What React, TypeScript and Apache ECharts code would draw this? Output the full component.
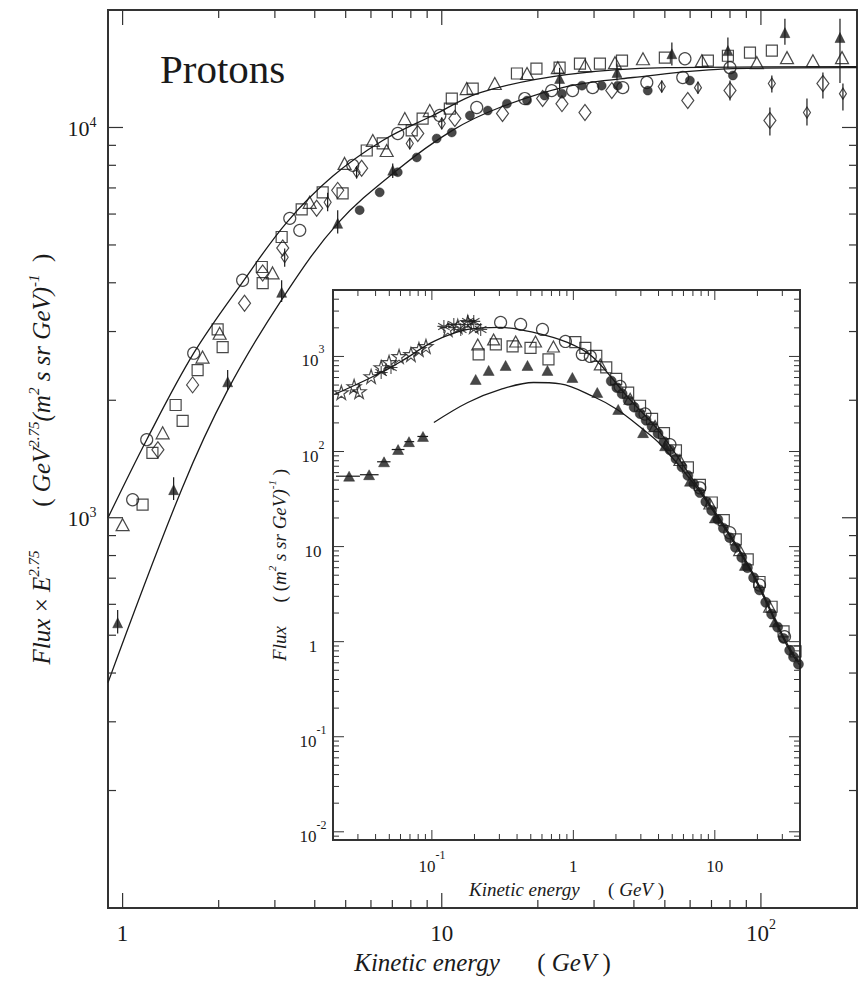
import React, { useEffect, useRef } from "react";
import * as echarts from "echarts";

// ---------- Main panel: Flux x E^2.75 vs kinetic energy (GeV) ----------
const mainCurveUpper = [
  [0.9, 1000], [1.19, 1585], [1.67, 2640], [2.377, 4018], [3.27, 5714], [4.55, 7495],
  [6.53, 9260], [9.37, 10730], [13.2, 12290], [24.6, 13660], [50.7, 14230], [200, 14320],
];
const mainCurveLower = [
  [0.9, 378], [1.53, 1180], [2.134, 2123], [3.175, 3655], [4.72, 5680], [7.22, 7760],
  [10.8, 9830], [15.2, 11250], [24.6, 12730], [39.7, 13430], [81.7, 14150], [200, 14230],
];
const mainOpenCircles = [
  [1.075, 1112], [1.19, 1585], [1.67, 2640], [2.377, 4060], [3.34, 5850], [3.59, 5450],
  [5.26, 8000], [7.28, 9650], [9.86, 10730], [12.87, 11250], [18.2, 11860], [22.1, 12430],
  [25.7, 12430], [29.7, 12650], [36.9, 12650], [43.9, 13040], [56.9, 13430], [80.0, 14230], [57.8, 15000],
];
const mainOpenSquares = [
  [1.155, 1080], [1.24, 1466], [1.466, 1945], [1.542, 1770], [1.718, 2390], [1.985, 3040],
  [2.058, 2735], [2.73, 4390], [2.747, 3990], [3.15, 5240], [3.64, 6170], [4.235, 6820],
  [4.89, 6780], [5.82, 8730], [6.53, 9100], [8.05, 9825], [8.71, 10540], [10.6, 11180],
  [10.75, 11860], [12.5, 12580], [17.2, 13750], [19.8, 14150], [23.4, 14230], [27.1, 14580],
  [31.3, 14580], [36.7, 14830], [50.0, 15100], [68.2, 14830], [78.8, 15270], [92.4, 15560], [108.2, 15740],
];
const mainOpenTriangles = [
  [1.0, 960], [1.335, 1650], [1.78, 2580], [2.014, 2970], [2.95, 4240], [3.855, 6430],
  [4.96, 8090], [6.08, 9260], [6.72, 8730], [7.66, 10540], [9.17, 11050], [11.97, 12580],
  [14.66, 12960], [18.5, 13750], [23.1, 14230], [28.1, 14410], [34.9, 14660], [42.7, 15000],
  [65.3, 14830], [97.1, 14660], [120.7, 15100], [145.5, 14830], [179.5, 15100],
];
const mainOpenDiamonds = [
  [1.29, 1494], [1.657, 2190], [2.41, 3545], [2.747, 4240], [3.175, 4910], [4.055, 6210],
  [4.72, 6900], [5.61, 7860], [8.41, 9650], [10.99, 10540], [15.5, 10860], [20.7, 11860],
  [23.8, 11510], [28.1, 10920], [34.1, 12430], [59.0, 11720], [80.0, 12430], [106.7, 10420], [156.4, 12960],
];
const mainSmallDiamonds = [
  [3.22, 4650], [4.39, 6430], [5.41, 7680], [7.94, 9100], [10.0, 10240], [48.9, 12730],
  [63.5, 12650], [108.2, 12960], [139.4, 10920], [180.7, 12210],
];
const mainFilledCircles = [
  [5.53, 6140], [6.39, 6820], [7.28, 7680], [8.35, 8380], [9.64, 9370], [10.75, 9710],
  [12.25, 10730], [13.94, 11050], [16.0, 11510], [18.5, 11720], [21.0, 12070], [23.8, 12210],
  [27.5, 12800], [31.7, 12800], [35.6, 12800], [44.2, 12430], [59.9, 13190], [81.7, 13590],
];
const mainFilledTriangles = [
  [0.965, 538], [1.445, 1180], [2.134, 2230], [3.15, 3780], [4.72, 5680], [7.02, 7770],
  [23.4, 13350], [35.4, 13830], [52.6, 15450], [78.8, 15740], [118.9, 17500], [176.9, 17000],
];
// vertical error bars: [energy, low, high]
const mainErrorBars = [
  [0.965, 505, 580], [1.445, 1110, 1270], [2.134, 2125, 2390], [3.15, 3570, 4060],
  [4.72, 5350, 6140], [7.02, 7420, 8090], [23.4, 12430, 14230], [35.4, 13190, 14580],
  [52.6, 14410, 16500], [78.8, 14230, 17000], [118.9, 16300, 19000], [176.9, 13000, 19000],
  [3.22, 4400, 4900], [4.39, 6100, 6800], [5.41, 7400, 7950], [7.94, 8800, 9400],
  [10.0, 9900, 10600], [48.9, 12300, 13200], [63.5, 12200, 13100], [108.2, 12300, 13590],
  [139.4, 10120, 11860], [180.7, 11050, 12960], [80.0, 11720, 13190], [106.7, 9540, 11250],
  [156.4, 11860, 13830],
];

// ---------- Inset: Flux vs kinetic energy ----------
const insetCurveUpper = [
  [0.0204, 398], [0.0372, 601], [0.0605, 886], [0.1033, 1438], [0.1794, 1923], [0.306, 2020],
  [0.523, 1790], [0.908, 1403], [1.383, 976], [2.4, 379], [4.1, 159], [7.0, 50.7],
  [12.15, 15.1], [18.5, 5.33], [32.1, 0.98], [39.7, 0.6],
];
const insetCurveLower = [
  [0.1033, 202], [0.1794, 328], [0.306, 450], [0.523, 532], [0.81, 515], [1.383, 379],
  [2.04, 277], [3.11, 171], [4.1, 120], [7.0, 47], [12.15, 14.4], [18.5, 5.07], [32.1, 0.93], [39.7, 0.57],
];
const insetStars = [
  [0.0229, 418], [0.0282, 483], [0.0306, 428], [0.0372, 616], [0.0438, 766], [0.0498, 865],
  [0.0586, 1000], [0.0711, 1050], [0.081, 1185], [0.0908, 1274], [0.1297, 1923], [0.1524, 2070],
  [0.1794, 2280], [0.1977, 2070],
];
const insetAsterisks = [
  [0.0438, 679], [0.0514, 766], [0.1216, 2070], [0.1429, 2173], [0.16, 1923], [0.1794, 2336],
  [0.1977, 2336], [0.2213, 1923],
];
const insetFilledTriangles = [
  [0.026, 55], [0.036, 57], [0.0459, 78], [0.0577, 105], [0.0689, 127], [0.0865, 144],
  [0.204, 573], [0.252, 713], [0.332, 804], [0.474, 804], [0.656, 713], [0.984, 601],
  [1.476, 418], [2.075, 277], [3.11, 158], [4.45, 115], [6.67, 48.7], [10.0, 20.0], [16.3, 6.34], [26.5, 1.61],
];
// horizontal bin bars: [energy low, energy high, flux]
const insetBinBars = [
  [0.021, 0.031, 55], [0.031, 0.042, 57], [0.041, 0.051, 78], [0.052, 0.064, 105],
  [0.064, 0.075, 127], [0.079, 0.094, 144],
];
const insetOpenCircles = [
  [0.306, 2280], [0.424, 2173], [0.605, 1923], [0.879, 1438], [1.157, 1050], [1.318, 1000],
  [2.14, 483], [3.21, 248], [4.82, 118], [7.84, 41.5], [12.75, 14.0], [20.7, 3.94], [31.1, 1.13],
];
const insetOpenSquares = [
  [0.214, 1050], [0.283, 1337], [0.372, 1274], [0.498, 1232], [0.667, 930], [1.033, 1418],
  [1.215, 1232], [1.452, 1014], [1.708, 767], [2.008, 581], [2.44, 417], [2.96, 303],
  [3.6, 221], [4.37, 156], [5.31, 103], [6.45, 68], [7.84, 44.6], [9.52, 29.1], [11.57, 19.0],
  [14.06, 11.9], [17.08, 7.35], [20.7, 4.24], [25.2, 2.33], [30.6, 1.28], [37.2, 0.789],
];
const insetOpenTriangles = [
  [0.211, 1337], [0.273, 1510], [0.391, 1438], [0.54, 1438], [0.723, 1274], [1.55, 824],
  [2.52, 359], [3.78, 185], [5.67, 81.4], [9.22, 28.4], [15.0, 9.19], [24.4, 2.34],
];
const insetFilledCircles = [
  [1.853, 551], [2.03, 470], [2.213, 405], [2.44, 345], [2.69, 293], [2.97, 250], [3.27, 213],
  [3.6, 183], [3.97, 155], [4.37, 127], [4.82, 104], [5.31, 84], [5.86, 69], [6.45, 56],
  [7.11, 45.5], [7.84, 37], [8.64, 29.7], [9.5, 24], [10.5, 19.3], [11.5, 15.6], [12.75, 12.4],
  [14.0, 9.8], [15.5, 7.7], [17.0, 6.0], [18.8, 4.71], [20.7, 3.5], [22.9, 2.59], [25.2, 1.95],
  [27.8, 1.42], [30.6, 1.08], [33.8, 0.81], [36.0, 0.69], [39.0, 0.58],
];

// ---------- tick marks (log axes) ----------
const mantissas = [1, 2, 3, 4, 5, 6, 7, 8, 9];
const mainXDecades = [1, 10, 100];
const mainYDecades = [100, 1000, 10000];
const insetXDecades = [0.01, 0.1, 1, 10];
const insetYDecades = [0.001, 0.01, 0.1, 1, 10, 100, 1000];

const SERIF = "'Liberation Serif', 'DejaVu Serif', serif";
const INK = "#1a1a1a";

function buildTicks(decades: number[], lo: number, hi: number): number[][] {
  const out: number[][] = [];
  decades.forEach((d) =>
    mantissas.forEach((m) => {
      const v = +(d * m).toPrecision(6);
      if (v > lo * 1.0001 && v < hi * 0.9999) out.push([v, m === 1 ? 1 : 0]);
    })
  );
  return out;
}

function powLabel(v: number, skip: number[] = []): string {
  const e = Math.log10(v);
  const r = Math.round(e);
  if (Math.abs(e - r) > 1e-6 || skip.includes(r)) return "";
  if (r === 0) return "{b|1}";
  if (r === 1) return "{b|10}";
  return `{b|10}{s|${r}}`;
}

const tickRender =
  (axis: "x" | "y", majorLen: number, minorLen: number, width: number) =>
  (params: any, api: any) => {
    const cs = params.coordSys;
    const p = api.coord([api.value(0), api.value(1)]);
    const len = api.value(2) ? majorLen : minorLen;
    const style = { stroke: "#333", lineWidth: width };
    if (axis === "x") {
      const b = cs.y + cs.height;
      return {
        type: "group",
        children: [
          { type: "line", shape: { x1: p[0], y1: b, x2: p[0], y2: b - len }, style },
          { type: "line", shape: { x1: p[0], y1: cs.y, x2: p[0], y2: cs.y + len }, style },
        ],
      };
    }
    const r = cs.x + cs.width;
    return {
      type: "group",
      children: [
        { type: "line", shape: { x1: cs.x, y1: p[1], x2: cs.x + len, y2: p[1] }, style },
        { type: "line", shape: { x1: r, y1: p[1], x2: r - len, y2: p[1] }, style },
      ],
    };
  };

const vBarRender = (params: any, api: any) => {
  const a = api.coord([api.value(0), api.value(1)]);
  const b = api.coord([api.value(0), api.value(2)]);
  return { type: "line", shape: { x1: a[0], y1: a[1], x2: b[0], y2: b[1] }, style: { stroke: INK, lineWidth: 1.2 } };
};
const hBarRender = (params: any, api: any) => {
  const a = api.coord([api.value(0), api.value(2)]);
  const b = api.coord([api.value(1), api.value(2)]);
  return { type: "line", shape: { x1: a[0], y1: a[1], x2: b[0], y2: b[1] }, style: { stroke: INK, lineWidth: 1.2 } };
};

const openStyle = { color: "rgba(255,255,255,0)", borderColor: INK, borderWidth: 1.2 };
const filledStyle = { color: INK, borderColor: INK, borderWidth: 0.5 };
const STAR = "path://M50,2 L61,37 L98,37 L68,59 L79,95 L50,73 L21,95 L32,59 L2,37 L39,37 Z";
const ASTER = "path://M50,0 L50,100 M6,25 L94,75 M6,75 L94,25 M0,50 L100,50";

function scatter(data: number[][], symbol: string, size: any, style: any, grid: number, z: number) {
  return {
    type: "scatter",
    xAxisIndex: grid,
    yAxisIndex: grid,
    data,
    symbol,
    symbolSize: size,
    itemStyle: style,
    z,
    silent: true,
  };
}

function curve(data: number[][], grid: number, z: number) {
  return {
    type: "line",
    xAxisIndex: grid,
    yAxisIndex: grid,
    data,
    smooth: 0.35,
    showSymbol: false,
    symbol: "none",
    lineStyle: { color: INK, width: 1.3 },
    z,
    silent: true,
  };
}

function buildOption(): any {
  const mainRich = {
    b: { fontFamily: SERIF, fontSize: 23, color: INK, lineHeight: 28, verticalAlign: "bottom" },
    s: { fontFamily: SERIF, fontSize: 14, color: INK, lineHeight: 12, verticalAlign: "top" },
  };
  const mainYRich = {
    b: { fontFamily: SERIF, fontSize: 22, color: INK, lineHeight: 24, verticalAlign: "bottom" },
    s: { fontFamily: SERIF, fontSize: 14, color: INK, lineHeight: 12, verticalAlign: "top" },
  };
  const insetRich = {
    b: { fontFamily: SERIF, fontSize: 17, color: INK, lineHeight: 26, verticalAlign: "bottom" },
    s: { fontFamily: SERIF, fontSize: 12, color: INK, lineHeight: 10, verticalAlign: "top" },
  };
  const nameRichBig = {
    i: { fontFamily: SERIF, fontStyle: "italic", fontSize: 25, color: INK, lineHeight: 28, verticalAlign: "bottom" },
    u: { fontFamily: SERIF, fontSize: 25, color: INK, lineHeight: 28, verticalAlign: "bottom" },
    s: { fontFamily: SERIF, fontStyle: "italic", fontSize: 15, color: INK, lineHeight: 14, verticalAlign: "top" },
  };
  const nameRichSmall = {
    i: { fontFamily: SERIF, fontStyle: "italic", fontSize: 19, color: INK, lineHeight: 22, verticalAlign: "bottom" },
    u: { fontFamily: SERIF, fontSize: 19, color: INK, lineHeight: 22, verticalAlign: "bottom" },
    s: { fontFamily: SERIF, fontStyle: "italic", fontSize: 11, color: INK, lineHeight: 10, verticalAlign: "top" },
  };

  const mainX = [0.9, 200];
  const mainY = [100, 20000];
  const insX = [0.02, 40];
  const insY = [0.0082, 5000];

  const mainXTicks = buildTicks(mainXDecades, mainX[0], mainX[1]).map((t) => [t[0], mainY[0], t[1]]);
  const mainYTicks = buildTicks(mainYDecades, mainY[0], mainY[1]).map((t) => [mainX[0], t[0], t[1]]);
  const insXTicks = buildTicks(insetXDecades, insX[0], insX[1]).map((t) => [t[0], insY[0], t[1]]);
  const insYTicks = buildTicks(insetYDecades, insY[0], insY[1]).map((t) => [insX[0], t[0], t[1]]);

  const hidden = { axisLine: { show: false }, axisTick: { show: false }, splitLine: { show: false } };

  return {
    animation: false,
    backgroundColor: "#ffffff",
    grid: [
      { left: 108, top: 10, width: 749, height: 898, show: true, borderColor: "#333", borderWidth: 2, backgroundColor: "rgba(0,0,0,0)", z: 0 },
      { left: 333, top: 290, width: 467, height: 550, show: true, borderColor: "#333", borderWidth: 2, backgroundColor: "#ffffff", z: 10 },
    ],
    xAxis: [
      {
        type: "log", logBase: 10, gridIndex: 0, min: mainX[0], max: mainX[1], ...hidden,
        axisLabel: { formatter: (v: number) => powLabel(v), margin: 9, rich: mainRich },
        name: "{i|Kinetic energy}{u|      ( }{i|GeV}{u| )}",
        nameLocation: "middle", nameGap: 39, nameTextStyle: { rich: nameRichBig },
      },
      {
        type: "log", logBase: 10, gridIndex: 1, min: insX[0], max: insX[1], ...hidden,
        axisLabel: { formatter: (v: number) => powLabel(v), margin: 9, rich: insetRich },
        name: "{i|Kinetic energy}{u|      ( }{i|GeV}{u| )}",
        nameLocation: "middle", nameGap: 30, nameTextStyle: { rich: nameRichSmall },
        z: 10,
      },
    ],
    yAxis: [
      {
        type: "log", logBase: 10, gridIndex: 0, min: mainY[0], max: mainY[1], ...hidden,
        axisLabel: { formatter: (v: number) => powLabel(v, [2]), margin: 26, align: "center", rich: mainYRich },
        name: "{i|Flux}{u| × }{i|E}{s|2.75}{u|       ( }{i|GeV}{s|2.75}{i|(m}{s|2}{i| s sr GeV)}{s|-1}{u|  )}",
        nameLocation: "middle", nameGap: 54, nameTextStyle: { rich: nameRichBig },
      },
      {
        type: "log", logBase: 10, gridIndex: 1, min: insY[0], max: insY[1], ...hidden,
        axisLabel: { formatter: (v: number) => powLabel(v), margin: 20, align: "center", rich: insetRich },
        name: "{i|Flux}{u|     ( (}{i|m}{s|2}{i| s sr GeV)}{s|-1}{u| )}",
        nameLocation: "middle", nameGap: 41, nameTextStyle: { rich: nameRichSmall },
        z: 10,
      },
    ],
    graphic: [
      {
        type: "text", left: 160, top: 48, z: 30,
        style: { text: "Protons", font: `41px ${SERIF}`, fill: INK },
      },
    ],
    series: [
      // main panel
      curve(mainCurveUpper, 0, 2),
      curve(mainCurveLower, 0, 2),
      { type: "custom", xAxisIndex: 0, yAxisIndex: 0, data: mainErrorBars, encode: { x: 0, y: [1, 2] }, renderItem: vBarRender, z: 3, silent: true },
      scatter(mainOpenCircles, "circle", 12, openStyle, 0, 4),
      scatter(mainOpenSquares, "rect", 11, openStyle, 0, 4),
      scatter(mainOpenTriangles, "triangle", [13, 12], openStyle, 0, 4),
      scatter(mainOpenDiamonds, "diamond", [12, 16], openStyle, 0, 4),
      scatter(mainSmallDiamonds, "diamond", [7, 11], openStyle, 0, 4),
      scatter(mainFilledCircles, "circle", 9, filledStyle, 0, 5),
      scatter(mainFilledTriangles, "triangle", [10, 10], filledStyle, 0, 5),
      { type: "custom", xAxisIndex: 0, yAxisIndex: 0, data: mainXTicks, encode: { x: 0, y: 1 }, renderItem: tickRender("x", 15, 8, 1.2), z: 6, silent: true },
      { type: "custom", xAxisIndex: 0, yAxisIndex: 0, data: mainYTicks, encode: { x: 0, y: 1 }, renderItem: tickRender("y", 15, 8, 1.2), z: 6, silent: true },
      // inset
      curve(insetCurveUpper, 1, 12),
      curve(insetCurveLower, 1, 12),
      { type: "custom", xAxisIndex: 1, yAxisIndex: 1, data: insetBinBars, encode: { x: [0, 1], y: 2 }, renderItem: hBarRender, z: 13, silent: true },
      scatter(insetStars, STAR, 14, openStyle, 1, 14),
      scatter(insetAsterisks, ASTER, 13, { color: "rgba(0,0,0,0)", borderColor: INK, borderWidth: 1.1 }, 1, 14),
      scatter(insetOpenCircles, "circle", 12, openStyle, 1, 14),
      scatter(insetOpenSquares, "rect", 11, openStyle, 1, 14),
      scatter(insetOpenTriangles, "triangle", [12, 11], openStyle, 1, 14),
      scatter(insetFilledCircles, "circle", 10, filledStyle, 1, 15),
      scatter(insetFilledTriangles, "triangle", [11, 10], filledStyle, 1, 15),
      { type: "custom", xAxisIndex: 1, yAxisIndex: 1, data: insXTicks, encode: { x: 0, y: 1 }, renderItem: tickRender("x", 10, 6, 1), z: 16, silent: true },
      { type: "custom", xAxisIndex: 1, yAxisIndex: 1, data: insYTicks, encode: { x: 0, y: 1 }, renderItem: tickRender("y", 11, 6, 1), z: 16, silent: true },
    ],
  };
}

export default function App() {
  const ref = useRef<HTMLDivElement>(null);
  useEffect(() => {
    document.body.style.margin = "0";
    const chart = echarts.init(ref.current as HTMLDivElement, null, { renderer: "svg" });
    chart.setOption(buildOption());
    return () => chart.dispose();
  }, []);
  return <div ref={ref} style={{ width: 862, height: 992, background: "#fff" }} />;
}
